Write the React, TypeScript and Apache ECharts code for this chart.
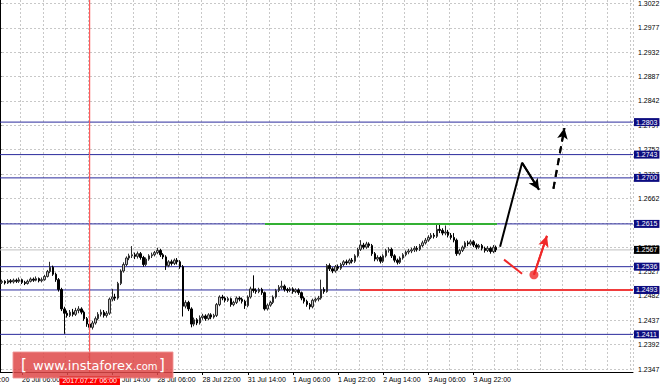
import React, { useEffect, useRef } from 'react';
import * as echarts from 'echarts';

// Hourly sessions shown on the chart (weekend skipped), plus empty future hours
const DAY_SEGMENTS: [string, number, number][] = [
  ['25 Jul', 22, 23], ['26 Jul', 0, 23], ['27 Jul', 0, 23], ['28 Jul', 0, 23],
  ['31 Jul', 0, 23], ['1 Aug', 0, 23], ['2 Aug', 0, 23], ['3 Aug', 0, 23],
  ['4 Aug', 0, 23], ['7 Aug', 0, 23], ['8 Aug', 0, 6],
];

const TIME_LABELS = [
  '26 Jul 06:00', '26 Jul 22:00', '27 Jul 14:00', '28 Jul 06:00', '28 Jul 22:00',
  '31 Jul 14:00', '1 Aug 06:00', '1 Aug 22:00', '2 Aug 14:00', '3 Aug 06:00', '3 Aug 22:00',
];

const Y_TICKS = [
  1.2347, 1.2392, 1.2437, 1.2482, 1.2527, 1.2572, 1.2617, 1.2662,
  1.2707, 1.2752, 1.2797, 1.2842, 1.2887, 1.2932, 1.2977, 1.3022,
];
const Y_MIN = 1.23415;
const Y_MAX = 1.30285;

// [open, close, low, high]
const CANDLES: number[][] = [
  [1.2505, 1.2507, 1.2502, 1.2510], [1.2507, 1.2509, 1.2504, 1.2512], [1.2509, 1.2506, 1.2503, 1.2511],
  [1.2506, 1.2510, 1.2504, 1.2513], [1.2510, 1.2508, 1.2505, 1.2513], [1.2508, 1.2511, 1.2505, 1.2514],
  [1.2511, 1.2509, 1.2506, 1.2514], [1.2509, 1.2512, 1.2506, 1.2516], [1.2512, 1.2507, 1.2504, 1.2514],
  [1.2507, 1.2505, 1.2502, 1.2510], [1.2505, 1.2509, 1.2503, 1.2512], [1.2509, 1.2513, 1.2507, 1.2516],
  [1.2513, 1.2511, 1.2508, 1.2516], [1.2511, 1.2514, 1.2509, 1.2518], [1.2514, 1.2510, 1.2507, 1.2516],
  [1.2510, 1.2512, 1.2507, 1.2516], [1.2512, 1.2518, 1.2510, 1.2521], [1.2518, 1.2527, 1.2516, 1.2530],
  [1.2527, 1.2535, 1.2524, 1.2545], [1.2535, 1.2522, 1.2519, 1.2538], [1.2522, 1.2512, 1.2508, 1.2525],
  [1.2512, 1.2494, 1.2490, 1.2515], [1.2494, 1.2458, 1.2454, 1.2497], [1.2458, 1.2450, 1.2412, 1.2462],
  [1.2450, 1.2446, 1.2442, 1.2455], [1.2446, 1.2452, 1.2443, 1.2456], [1.2452, 1.2448, 1.2444, 1.2458],
  [1.2448, 1.2455, 1.2445, 1.2460], [1.2455, 1.2458, 1.2450, 1.2463], [1.2458, 1.2452, 1.2448, 1.2461],
  [1.2452, 1.2440, 1.2436, 1.2455], [1.2440, 1.2430, 1.2425, 1.2443], [1.2430, 1.2424, 1.2417, 1.2434],
  [1.2424, 1.2432, 1.2420, 1.2436], [1.2432, 1.2440, 1.2429, 1.2444], [1.2440, 1.2448, 1.2437, 1.2452],
  [1.2448, 1.2452, 1.2444, 1.2457], [1.2452, 1.2446, 1.2442, 1.2456], [1.2446, 1.2450, 1.2442, 1.2454],
  [1.2450, 1.2476, 1.2447, 1.2479], [1.2476, 1.2480, 1.2472, 1.2495], [1.2480, 1.2478, 1.2473, 1.2486],
  [1.2478, 1.2505, 1.2475, 1.2508], [1.2505, 1.2528, 1.2502, 1.2531], [1.2528, 1.2540, 1.2525, 1.2544],
  [1.2540, 1.2552, 1.2537, 1.2555], [1.2552, 1.2556, 1.2548, 1.2560], [1.2556, 1.2558, 1.2552, 1.2574],
  [1.2558, 1.2555, 1.2550, 1.2562], [1.2555, 1.2560, 1.2551, 1.2564], [1.2560, 1.2553, 1.2549, 1.2563],
  [1.2553, 1.2540, 1.2536, 1.2556], [1.2540, 1.2550, 1.2537, 1.2553], [1.2550, 1.2556, 1.2547, 1.2559],
  [1.2556, 1.2558, 1.2552, 1.2562], [1.2558, 1.2562, 1.2555, 1.2565], [1.2562, 1.2566, 1.2559, 1.2571],
  [1.2566, 1.2558, 1.2554, 1.2569], [1.2558, 1.2554, 1.2550, 1.2561], [1.2554, 1.2538, 1.2530, 1.2557],
  [1.2538, 1.2545, 1.2535, 1.2548], [1.2545, 1.2542, 1.2538, 1.2549], [1.2542, 1.2548, 1.2539, 1.2551],
  [1.2548, 1.2545, 1.2540, 1.2552], [1.2545, 1.2536, 1.2532, 1.2548], [1.2536, 1.2463, 1.2444, 1.2539],
  [1.2463, 1.2470, 1.2459, 1.2474], [1.2470, 1.2458, 1.2454, 1.2473], [1.2458, 1.2430, 1.2424, 1.2461],
  [1.2430, 1.2438, 1.2426, 1.2442], [1.2438, 1.2432, 1.2428, 1.2441], [1.2432, 1.2442, 1.2429, 1.2446],
  [1.2442, 1.2445, 1.2438, 1.2449], [1.2445, 1.2440, 1.2436, 1.2448], [1.2440, 1.2447, 1.2437, 1.2450],
  [1.2447, 1.2443, 1.2439, 1.2450], [1.2443, 1.2446, 1.2440, 1.2449], [1.2446, 1.2466, 1.2443, 1.2469],
  [1.2466, 1.2480, 1.2463, 1.2483], [1.2480, 1.2478, 1.2474, 1.2484], [1.2478, 1.2474, 1.2470, 1.2481],
  [1.2474, 1.2477, 1.2471, 1.2480], [1.2477, 1.2466, 1.2462, 1.2479], [1.2466, 1.2470, 1.2463, 1.2473],
  [1.2470, 1.2478, 1.2467, 1.2481], [1.2478, 1.2476, 1.2472, 1.2481], [1.2476, 1.2472, 1.2468, 1.2479],
  [1.2472, 1.2464, 1.2458, 1.2475], [1.2464, 1.2480, 1.2461, 1.2483], [1.2480, 1.2495, 1.2477, 1.2499],
  [1.2495, 1.2492, 1.2488, 1.2520], [1.2492, 1.2490, 1.2486, 1.2496], [1.2490, 1.2494, 1.2487, 1.2497],
  [1.2494, 1.2488, 1.2484, 1.2497], [1.2488, 1.2458, 1.2455, 1.2490], [1.2458, 1.2465, 1.2455, 1.2468],
  [1.2465, 1.2470, 1.2462, 1.2473], [1.2470, 1.2480, 1.2467, 1.2483], [1.2480, 1.2492, 1.2477, 1.2495],
  [1.2492, 1.2498, 1.2489, 1.2502], [1.2498, 1.2500, 1.2494, 1.2510], [1.2500, 1.2494, 1.2490, 1.2503],
  [1.2494, 1.2492, 1.2488, 1.2497], [1.2492, 1.2495, 1.2489, 1.2498], [1.2495, 1.2490, 1.2486, 1.2498],
  [1.2490, 1.2493, 1.2487, 1.2496], [1.2493, 1.2488, 1.2484, 1.2496], [1.2488, 1.2478, 1.2474, 1.2490],
  [1.2478, 1.2472, 1.2468, 1.2481], [1.2472, 1.2466, 1.2462, 1.2475], [1.2466, 1.2462, 1.2457, 1.2469],
  [1.2462, 1.2474, 1.2459, 1.2477], [1.2474, 1.2476, 1.2470, 1.2479], [1.2476, 1.2478, 1.2472, 1.2482],
  [1.2478, 1.2494, 1.2475, 1.2512], [1.2494, 1.2490, 1.2486, 1.2498], [1.2490, 1.2538, 1.2488, 1.2541],
  [1.2538, 1.2532, 1.2528, 1.2542], [1.2532, 1.2528, 1.2524, 1.2535], [1.2528, 1.2536, 1.2525, 1.2539],
  [1.2536, 1.2533, 1.2529, 1.2540], [1.2533, 1.2540, 1.2530, 1.2543], [1.2540, 1.2545, 1.2537, 1.2548],
  [1.2545, 1.2543, 1.2539, 1.2549], [1.2543, 1.2548, 1.2540, 1.2551], [1.2548, 1.2546, 1.2542, 1.2552],
  [1.2546, 1.2556, 1.2543, 1.2559], [1.2556, 1.2568, 1.2553, 1.2571], [1.2568, 1.2576, 1.2565, 1.2585],
  [1.2576, 1.2572, 1.2568, 1.2580], [1.2572, 1.2578, 1.2569, 1.2582], [1.2578, 1.2575, 1.2571, 1.2581],
  [1.2575, 1.2560, 1.2556, 1.2578], [1.2560, 1.2550, 1.2546, 1.2563], [1.2550, 1.2553, 1.2546, 1.2557],
  [1.2553, 1.2546, 1.2542, 1.2556], [1.2546, 1.2556, 1.2543, 1.2559], [1.2556, 1.2566, 1.2553, 1.2569],
  [1.2566, 1.2568, 1.2562, 1.2572], [1.2568, 1.2556, 1.2552, 1.2571], [1.2556, 1.2548, 1.2544, 1.2559],
  [1.2548, 1.2544, 1.2540, 1.2551], [1.2544, 1.2552, 1.2541, 1.2555], [1.2552, 1.2558, 1.2549, 1.2561],
  [1.2558, 1.2563, 1.2555, 1.2566], [1.2563, 1.2565, 1.2559, 1.2569], [1.2565, 1.2567, 1.2561, 1.2571],
  [1.2567, 1.2570, 1.2563, 1.2574], [1.2570, 1.2568, 1.2564, 1.2574], [1.2568, 1.2575, 1.2565, 1.2578],
  [1.2575, 1.2580, 1.2572, 1.2584], [1.2580, 1.2585, 1.2577, 1.2589], [1.2585, 1.2590, 1.2582, 1.2594],
  [1.2590, 1.2594, 1.2587, 1.2598], [1.2594, 1.2592, 1.2588, 1.2598], [1.2592, 1.2605, 1.2589, 1.2616],
  [1.2605, 1.2603, 1.2598, 1.2614], [1.2603, 1.2598, 1.2594, 1.2607], [1.2598, 1.2600, 1.2594, 1.2612],
  [1.2600, 1.2594, 1.2590, 1.2604], [1.2594, 1.2590, 1.2586, 1.2598], [1.2590, 1.2585, 1.2581, 1.2598],
  [1.2585, 1.2560, 1.2556, 1.2588], [1.2560, 1.2566, 1.2557, 1.2569], [1.2566, 1.2572, 1.2563, 1.2575],
  [1.2572, 1.2580, 1.2569, 1.2583], [1.2580, 1.2578, 1.2574, 1.2584], [1.2578, 1.2582, 1.2575, 1.2586],
  [1.2582, 1.2576, 1.2572, 1.2585], [1.2576, 1.2572, 1.2568, 1.2579], [1.2572, 1.2575, 1.2569, 1.2578],
  [1.2575, 1.2570, 1.2566, 1.2578], [1.2570, 1.2566, 1.2562, 1.2573], [1.2566, 1.2570, 1.2563, 1.2574],
  [1.2570, 1.2564, 1.2560, 1.2573], [1.2564, 1.2572, 1.2561, 1.2576], [1.2572, 1.2567, 1.2563, 1.2575],
];

const LEVELS = [1.2803, 1.2743, 1.27, 1.2615, 1.2536, 1.2493, 1.2411];
const LAST_PRICE = 1.2567;
const CURSOR_TIME = '27 Jul 06:00';
const CURSOR_LABEL = '2017.07.27 06:00';

// Drawn forecast in (hour index, price)
const GREEN_LEVEL = [[94.1, 1.2615], [176.3, 1.2615]];
const RED_LEVEL = [[127.8, 1.2493], [224.5, 1.2493]];
const BLACK_PATH = [[177.4, 1.2573], [185.2, 1.2728], [191.2, 1.2678]];
const BLACK_DASH = [[196.3, 1.268], [200.2, 1.2792]];
const RED_PATH = [[178.8, 1.2549], [185.2, 1.2523]];
const RED_ARROW = [[189.4, 1.2521], [194.0, 1.2593]];

const X_FIRST = -0.5;
const X_LAST = 224.5;
const FONT = 'Liberation Sans, Arial, sans-serif';

function buildCategories(): string[] {
  const out: string[] = [];
  DAY_SEGMENTS.forEach(([d, a, b]) => {
    for (let h = a; h <= b; h++) out.push(`${d} ${String(h).padStart(2, '0')}:00`);
  });
  return out;
}

function arrowSeries(path: number[][], color: string, dashed: boolean, arrow: boolean) {
  const ls = { color, width: 2, type: dashed ? [7, 5] : 'solid' };
  const n = path.length;
  return {
    type: 'line',
    xAxisIndex: 1,
    yAxisIndex: 0,
    data: path,
    symbol: 'none',
    lineStyle: ls,
    silent: true,
    z: 5,
    markLine: arrow
      ? {
          silent: true,
          symbol: ['none', 'arrow'],
          symbolSize: [8, 11],
          lineStyle: ls,
          label: { show: false },
          data: [[{ coord: path[n - 2] }, { coord: path[n - 1] }]],
        }
      : undefined,
  };
}

function levelSeries(v: number, lineColor: string, boxColor: string) {
  return {
    type: 'line',
    xAxisIndex: 1,
    yAxisIndex: 0,
    data: [[X_FIRST, v], [X_LAST, v]],
    symbol: 'none',
    silent: true,
    z: 3,
    lineStyle: { color: lineColor, width: 1, type: 'solid' },
    endLabel: {
      show: true,
      formatter: () => v.toFixed(4),
      color: '#fff',
      backgroundColor: boxColor,
      fontSize: 7,
      fontFamily: FONT,
      padding: [1, 2, 0, 2],
      distance: 1,
      valueAnimation: false,
    },
  };
}

export default function App() {
  const ref = useRef<HTMLDivElement>(null);
  useEffect(() => {
    document.body.style.margin = '0';
    const chart = echarts.init(ref.current!, null, { renderer: 'svg' });
    const categories = buildCategories();
    const cursorIndex = categories.indexOf(CURSOR_TIME);
    const cursorStyle = { color: '#ff5a5a', width: 1, type: 'solid' };
    const option: any = {
      animation: false,
      backgroundColor: '#ffffff',
      grid: { left: -2, right: 30, top: 0, bottom: 16, containLabel: false, outerBoundsMode: 'none' },
      xAxis: [
        {
          type: 'category',
          data: categories,
          boundaryGap: true,
          axisLine: { show: true, lineStyle: { color: '#000', width: 1 } },
          axisTick: {
            show: true,
            alignWithLabel: true,
            length: 3,
            interval: (_i: number, v: string) => TIME_LABELS.includes(v),
            lineStyle: { color: '#000' },
          },
          axisLabel: {
            interval: (_i: number, v: string) => TIME_LABELS.includes(v),
            align: 'left',
            fontSize: 7,
            fontFamily: FONT,
            color: '#000',
            margin: 4,
          },
          splitLine: {
            show: true,
            interval: (i: number) => i % 8 === 0,
            lineStyle: { color: '#c8c8c8', type: [2, 2], width: 1 },
          },
        },
        { type: 'value', min: X_FIRST, max: X_LAST, show: false },
      ],
      yAxis: [
        {
          type: 'value',
          position: 'right',
          min: Y_MIN,
          max: Y_MAX,
          axisLine: { show: true, lineStyle: { color: '#000', width: 2 } },
          axisTick: { show: true, length: 2, customValues: Y_TICKS, lineStyle: { color: '#000' } },
          axisLabel: {
            customValues: Y_TICKS,
            formatter: (v: number) => v.toFixed(4),
            fontSize: 7,
            fontFamily: FONT,
            color: '#000',
            margin: 5,
          },
          splitLine: { show: true, lineStyle: { color: '#c8c8c8', type: [2, 2], width: 1 } },
        },
      ],
      series: [
        {
          type: 'line',
          xAxisIndex: 1,
          yAxisIndex: 0,
          data: [[cursorIndex, Y_MAX], [cursorIndex, Y_MIN]],
          symbol: 'none',
          silent: true,
          z: 3,
          lineStyle: cursorStyle,
          markLine: {
            silent: true,
            symbol: ['none', 'none'],
            lineStyle: cursorStyle,
            data: [
              {
                xAxis: cursorIndex,
                label: {
                  show: true,
                  position: 'start',
                  formatter: CURSOR_LABEL,
                  color: '#fff',
                  backgroundColor: '#ff0000',
                  fontSize: 7,
                  fontFamily: FONT,
                  padding: [1, 3, 1, 3],
                  distance: 4,
                },
              },
            ],
          },
        },
        levelSeries(LAST_PRICE, '#c0c0c0', '#000000'),
        ...LEVELS.map((v) => levelSeries(v, '#2a2a9c', '#0c0c80')),
        {
          type: 'candlestick',
          data: CANDLES,
          barWidth: 2,
          z: 4,
          itemStyle: {
            color: '#c4c4c4',
            color0: '#000000',
            borderColor: '#2a2a2a',
            borderColor0: '#000000',
            borderWidth: 1,
          },
        },
        arrowSeries(GREEN_LEVEL, '#33b033', false, false),
        arrowSeries(RED_LEVEL, '#f03c3c', false, false),
        arrowSeries(BLACK_PATH, '#000000', false, true),
        arrowSeries(BLACK_DASH, '#000000', true, true),
        arrowSeries(RED_PATH, '#f02828', false, false),
        arrowSeries(RED_ARROW, '#f02828', false, true),
        {
          type: 'scatter',
          xAxisIndex: 1,
          yAxisIndex: 0,
          data: [RED_ARROW[0]],
          symbol: 'circle',
          symbolSize: 9,
          itemStyle: { color: '#f02828' },
          silent: true,
          z: 6,
        },
      ],
      graphic: [
        {
          type: 'text',
          x: -29,
          y: 376,
          style: { text: '25 Jul 14:00', fill: '#000', font: `7px ${FONT}`, verticalAlign: 'top' },
        },
        {
          type: 'rect',
          z: 100,
          shape: { x: 13, y: 352, width: 160, height: 26 },
          style: { fill: 'rgba(222,72,72,0.85)', stroke: 'rgba(240,150,150,0.9)', lineWidth: 1 },
        },
        {
          type: 'text',
          z: 101,
          x: 21,
          y: 365,
          style: { text: '[', fill: '#fff', font: '15px DejaVu Sans', verticalAlign: 'middle' },
        },
        {
          type: 'text',
          z: 101,
          x: 33,
          y: 365,
          style: { text: 'www.instaforex', fill: '#fff', font: '13px DejaVu Sans', verticalAlign: 'middle' },
        },
        {
          type: 'text',
          z: 101,
          x: 133,
          y: 366,
          style: { text: '.com', fill: '#fff', font: '10px DejaVu Sans', verticalAlign: 'middle' },
        },
        {
          type: 'text',
          z: 101,
          x: 159,
          y: 365,
          style: { text: ']', fill: '#fff', font: '15px DejaVu Sans', verticalAlign: 'middle' },
        },
      ],
    };
    chart.setOption(option);
    return () => chart.dispose();
  }, []);
  return <div ref={ref} style={{ width: 663, height: 388 }} />;
}
